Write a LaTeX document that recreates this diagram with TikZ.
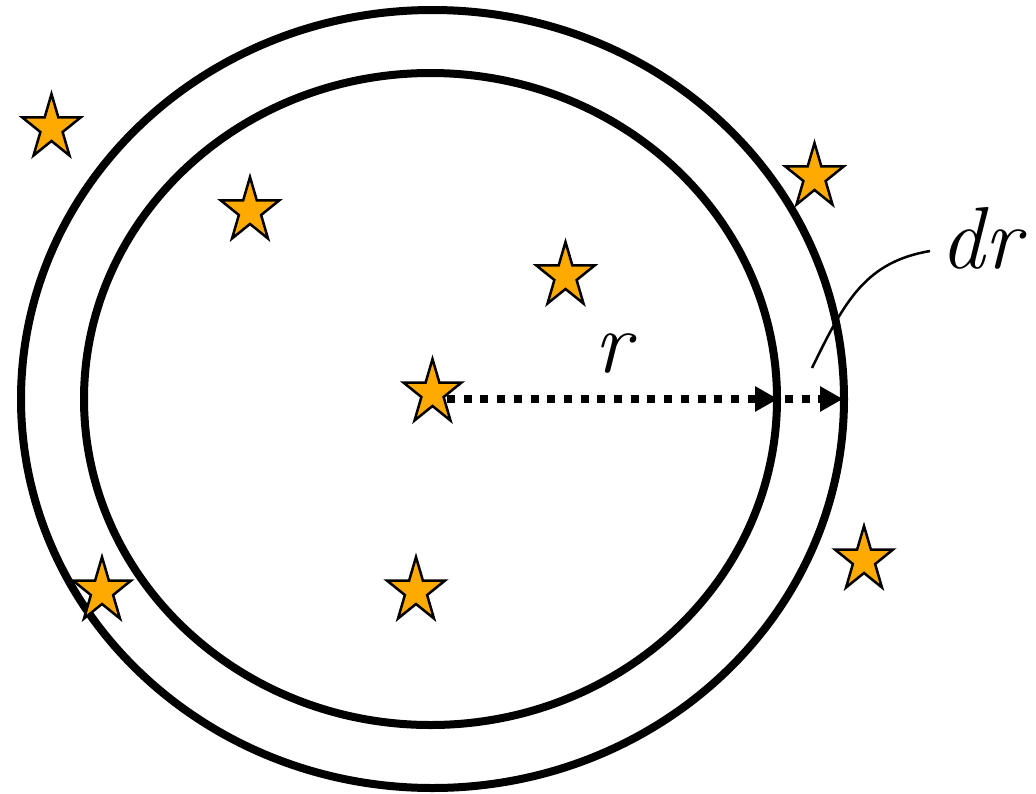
\documentclass[tikz,border=0pt]{standalone}
\usetikzlibrary{shapes.geometric,arrows.meta}
\definecolor{starorange}{RGB}{255,170,0}
\tikzset{
  ring/.style={draw=black,line width=8pt},
  starmark/.style={star,star points=5,star point ratio=2.618,minimum size=68pt,inner sep=0pt,outer sep=0pt,
    xscale=0.9,draw=black,line width=2.5pt,fill=starorange},
  dotarrow/.style={line width=8pt,dash pattern=on 8pt off 8.7pt,-{Triangle[length=23pt,width=24pt]}},
  leader/.style={draw=black,line width=2.5pt},
  lbl/.style={font=\fontsize{88}{90}\selectfont\itshape,inner sep=0pt,anchor=base}
}
\begin{document}
\begin{tikzpicture}[x=1pt,y=-1pt]
\useasboundingbox (0,0) rectangle (1036,793);
% rings
\draw[ring] (432.5,399) ellipse [x radius=411.5,y radius=389];
\draw[ring] (430.5,399) ellipse [x radius=346.5,y radius=326];
% coordinates for arrows and leader
\coordinate (rStart) at (447,399);
\coordinate (rEnd) at (778,399);
\coordinate (drStart) at (785,399);
\coordinate (drEnd) at (843,399);
\coordinate (leadA) at (812,368);
\coordinate (leadB) at (930,251);
% arrows
\draw[dotarrow] (rStart) -- (rEnd);
\draw[dotarrow] (drStart) -- (drEnd);
% leader
\draw[leader] (leadA) .. controls (845,300) and (866,262) .. (leadB);
% labels
\node[lbl] (rlab) at (613,372) {r};
\node[lbl] (drlab) at (981,268) {dr};
% stars
\node[starmark] (s0) at (432.5,393) {};
\node[starmark] (s1) at (51.5,128) {};
\node[starmark] (s2) at (250,211) {};
\node[starmark] (s3) at (565.5,276) {};
\node[starmark] (s4) at (814.5,177) {};
\node[starmark] (s5) at (102,591) {};
\node[starmark] (s6) at (416,591) {};
\node[starmark] (s7) at (864,560) {};
\end{tikzpicture}
\end{document}
